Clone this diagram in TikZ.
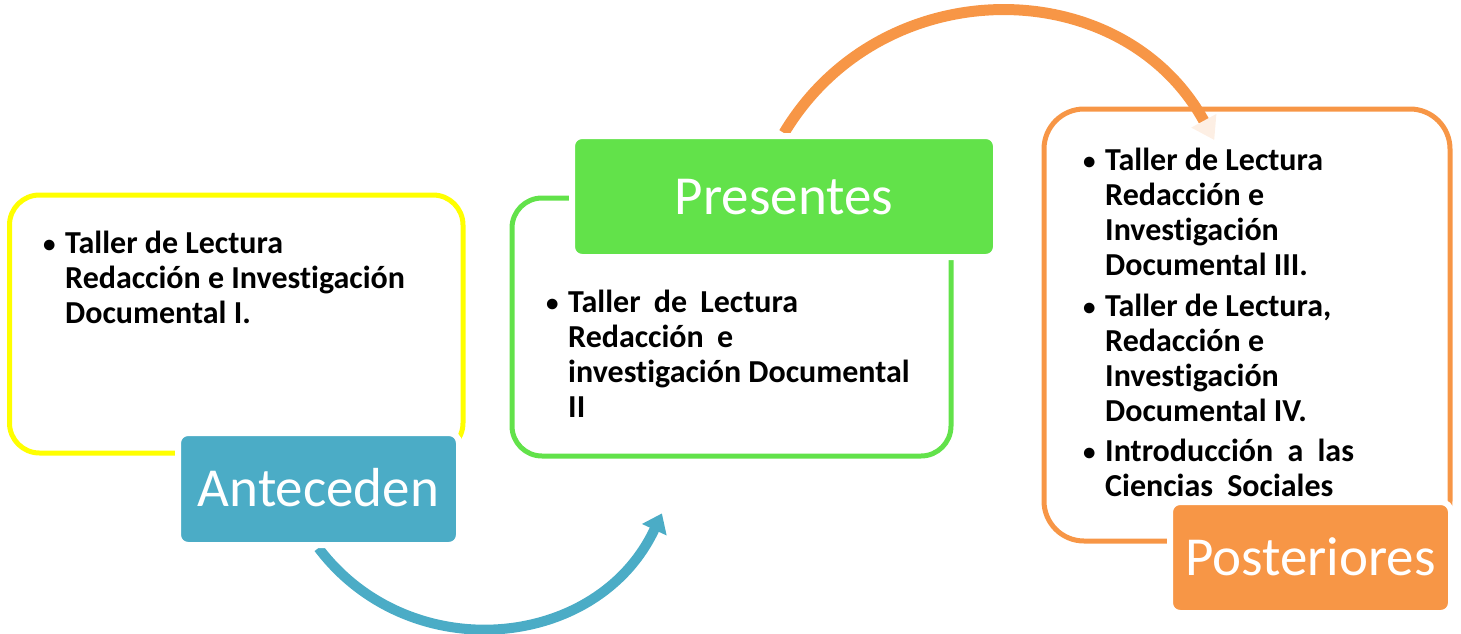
\documentclass[tikz,border=0pt]{standalone}
\usepackage{fontspec}
\setmainfont{Carlito}[Ligatures=NoCommon]
\usetikzlibrary{arrows.meta,calc}
\definecolor{cyel}{HTML}{FFFF00}
\definecolor{cblue}{HTML}{4BACC6}
\definecolor{cgreen}{HTML}{62E24A}
\definecolor{corange}{HTML}{F79646}
\definecolor{cpale}{HTML}{FDEFE4}
\pgfdeclarelayer{bg}
\pgfsetlayers{bg,main}
\newcommand{\mybul}{\raisebox{1pt}{\fontsize{25}{25}\selectfont •}}
\begin{document}
\begin{tikzpicture}[x=1pt,y=-1pt,
  outline/.style={draw, line width=5pt, inner sep=0pt, rounded corners=#1},
  tagbox/.style={draw=white, line width=6pt, rounded corners=10pt, text=white,
    font=\fontsize{55}{60}\selectfont, text height=35.4pt, text depth=0pt, inner sep=0pt},
  body/.style={anchor=base west, inner sep=0pt, font=\fontsize{32}{35}\selectfont\bfseries},
  arc/.style={line width=#1}
]
\useasboundingbox (0,0) rectangle (1461,634);

% label boxes
\node[tagbox, fill=cblue, minimum width=281pt, minimum height=112pt] (ante) at (318.5,489) {Anteceden};
\node[tagbox, fill=cgreen, minimum width=424pt, minimum height=121pt] (pres) at (784,196.5) {Presentes};
\node[tagbox, fill=corange, minimum width=281pt, minimum height=111pt] (post) at (1310.5,557.5) {Posteriores};

% body texts
\node[body] (t1) at (43,253) {\begin{tabular}[t]{@{}p{22pt}@{}l@{}}
\mybul & Taller de Lectura\\
 & Redacción e Investigación\\
 & Documental I.
\end{tabular}};

\node[body] (t2) at (546,312) {\begin{tabular}[t]{@{}p{22pt}@{}l@{}}
\mybul & Taller\hspace{6pt} de\hspace{6pt} Lectura\\
 & Redacción\hspace{6pt} e\\
 & investigación Documental\\
 & II
\end{tabular}};

\node[body] (t3) at (1083,170) {\begin{tabular}[t]{@{}p{22pt}@{}l@{}}
\mybul & Taller de Lectura\\
 & Redacción e\\
 & Investigación\\
 & Documental III.\\[6pt]
\mybul & Taller de Lectura,\\
 & Redacción e\\
 & Investigación\\
 & Documental IV.\\[5pt]
\mybul & Introducción\hspace{7pt} a\hspace{7pt} las\\
 & Ciencias\hspace{7pt} Sociales
\end{tabular}};

\coordinate (btip) at (661.9,513.4);
\coordinate (otip) at (1214.3,140.1);

\begin{pgfonlayer}{bg}
\node[outline=30pt, draw=cyel, minimum width=453.5pt, minimum height=258pt] (ybox) at (236.25,324) {};
\node[outline=30pt, draw=cgreen, minimum width=439pt, minimum height=258pt] (gbox) at (731.5,327) {};
\node[outline=40pt, draw=corange, minimum width=406pt, minimum height=432pt] (obox) at (1247,325) {};

\draw[arc=10pt, cblue, -{Triangle[length=18pt,width=26pt]}]
  (ante.south) .. controls (409.3,668.1) and (597.8,650.8) .. (btip);
\draw[arc=11pt, corange, -{Triangle[length=22pt,width=27pt,color=cpale]}]
  (pres.north) .. controls (882.6,-31.3) and (1122.9,-28.2) .. (otip);
\end{pgfonlayer}
\end{tikzpicture}
\end{document}
